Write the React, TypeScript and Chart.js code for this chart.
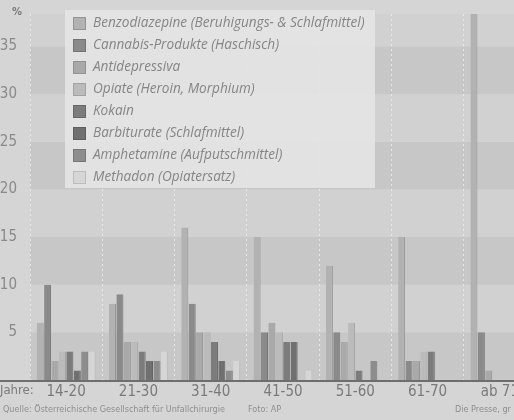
import React, { useEffect, useRef } from "react";
import { Chart, registerables } from "chart.js";

Chart.register(...registerables);

const categories = ["14-20", "21-30", "31-40", "41-50", "51-60", "61-70", "ab 71"];

const seriesNames = [
  "Benzodiazepine (Beruhigungs- & Schlafmittel)",
  "Cannabis-Produkte (Haschisch)",
  "Antidepressiva",
  "Opiate (Heroin, Morphium)",
  "Kokain",
  "Barbiturate (Schlafmittel)",
  "Amphetamine (Aufputschmittel)",
  "Methadon (Opiatersatz)",
];

const benzodiazepine = [6, 8, 16, 15, 12, 15, 42];
const cannabis = [10, 9, 8, 5, 5, 2, 5];
const antidepressiva = [2, 4, 5, 6, 4, 2, 1];
const opiate = [3, 4, 5, 5, 6, 3, 0];
const kokain = [3, 3, 4, 4, 1, 3, 0];
const barbiturate = [1, 2, 2, 4, 0, 0, 0];
const amphetamine = [3, 2, 1, 0, 2, 0, 0];
const methadon = [3, 3, 2, 1, 0, 0, 0];

const seriesValues = [benzodiazepine, cannabis, antidepressiva, opiate, kokain, barbiturate, amphetamine, methadon];

const seriesColors = ["#b2b2b2", "#8a8a8a", "#a9a9a9", "#bbbbbb", "#7c7c7c", "#707070", "#8d8d8d", "#d6d6d6"];
const seriesBorders = ["#949494", "#747474", "#929292", "#a2a2a2", "#676767", "#5e5e5e", "#777777", "#bdbdbd"];

const yTickValues = [5, 10, 15, 20, 25, 30, 35];
const yMax = 38.4;

const sourceText = "Quelle: Österreichische Gesellschaft für Unfallchirurgie";
const fotoText = "Foto: AP";
const presseText = "Die Presse, gr";

const decorPlugin = {
  id: "decor",
  beforeDraw(chart: any) {
    const { ctx, chartArea, scales, width, height } = chart;
    const y = scales.y;
    ctx.save();
    ctx.fillStyle = "#d5d5d5";
    ctx.fillRect(0, 0, width, height);
    for (let i = 0; i < 8; i++) {
      const lo = i * 5;
      const hi = Math.min((i + 1) * 5, yMax);
      const top = y.getPixelForValue(hi);
      const bot = y.getPixelForValue(lo);
      ctx.fillStyle = i % 2 === 0 ? "#c7c7c7" : "#d1d1d1";
      ctx.fillRect(chartArea.left, top, width - chartArea.left, bot - top);
    }
    ctx.restore();
  },
  afterDatasetsDraw(chart: any) {
    const { ctx, chartArea, width } = chart;
    ctx.save();
    // axis line
    ctx.strokeStyle = "#6e6e6e";
    ctx.lineWidth = 2;
    ctx.beginPath();
    ctx.moveTo(0, chartArea.bottom + 1);
    ctx.lineTo(width, chartArea.bottom + 1);
    ctx.stroke();

    // legend box
    const bx = 65, by = 10, bw = 310, bh = 178;
    ctx.fillStyle = "rgba(228,228,228,0.9)";
    ctx.fillRect(bx, by, bw, bh);
    ctx.font = "italic 13.6px 'Open Sans', 'DejaVu Sans', sans-serif";
    ctx.textBaseline = "middle";
    ctx.textAlign = "left";
    chart.data.datasets.forEach((ds: any, i: number) => {
      const cy = 23 + i * 22;
      ctx.fillStyle = ds.backgroundColor;
      ctx.fillRect(73, cy - 6, 13, 13);
      ctx.strokeStyle = ds.borderColor;
      ctx.lineWidth = 1;
      ctx.strokeRect(73.5, cy - 5.5, 12, 12);
      ctx.fillStyle = "#858585";
      ctx.fillText(ds.label, 93, cy);
    });

    // percent sign
    ctx.fillStyle = "#7a7a7a";
    ctx.font = "bold 10px 'DejaVu Sans', sans-serif";
    ctx.textAlign = "center";
    ctx.fillText("%", 17, 12);

    // Jahre label
    ctx.font = "13px 'DejaVu Sans Condensed', 'DejaVu Sans', sans-serif";
    ctx.textAlign = "left";
    ctx.fillStyle = "#7a7a7a";
    ctx.fillText("Jahre:", 0, chartArea.bottom + 11);

    // source line
    ctx.font = "9px 'DejaVu Sans Condensed', 'DejaVu Sans', sans-serif";
    ctx.fillStyle = "#8e8e8e";
    ctx.fillText(sourceText, 3, chartArea.bottom + 30);
    ctx.fillText(fotoText, 248, chartArea.bottom + 30);
    ctx.fillText(presseText, 455, chartArea.bottom + 30);
    ctx.restore();
  },
};

export default function App() {
  const ref = useRef<HTMLCanvasElement | null>(null);

  useEffect(() => {
    if (!ref.current) return;
    const chart = new Chart(ref.current, {
      type: "bar",
      data: {
        labels: categories,
        datasets: seriesNames.map((name, i) => ({
          label: name,
          data: seriesValues[i],
          backgroundColor: seriesColors[i],
          borderColor: seriesBorders[i],
          borderWidth: { top: 0, left: 0, right: 1, bottom: 0 },
          barPercentage: 0.95,
          categoryPercentage: 0.82,
        })),
      },
      options: {
        animation: false,
        responsive: false,
        maintainAspectRatio: false,
        layout: { padding: { left: 0, right: 25, top: 0, bottom: 0 } },
        plugins: {
          legend: { display: false },
          tooltip: { enabled: false },
        },
        scales: {
          x: {
            type: "category",
            grid: {
              display: true,
              offset: true,
              color: "rgba(240,240,240,0.75)",
              lineWidth: 1,
              drawTicks: false,
            },
            border: { display: false, dash: [2, 3] },
            ticks: {
              color: "#7a7a7a",
              font: { size: 15, family: "'DejaVu Sans Condensed', 'DejaVu Sans', sans-serif" },
              padding: 3,
              maxRotation: 0,
              autoSkip: false,
            },
            afterFit(scale: any) {
              scale.height = 40;
            },
          },
          y: {
            min: 0,
            max: yMax,
            grid: { display: false },
            border: { display: false },
            afterBuildTicks(scale: any) {
              scale.ticks = yTickValues.map((v) => ({ value: v }));
            },
            ticks: {
              color: "#8a8a8a",
              font: { size: 15, family: "'DejaVu Sans Condensed', 'DejaVu Sans', sans-serif" },
              padding: 5,
            },
            afterFit(scale: any) {
              scale.width = 30;
            },
          },
        },
      },
      plugins: [decorPlugin],
    });
    return () => chart.destroy();
  }, []);

  return (
    <div style={{ position: "fixed", left: 0, top: 0, width: 514, height: 420, overflow: "hidden" }}>
      <canvas ref={ref} width={561} height={420} style={{ display: "block", width: 561, height: 420 }} />
    </div>
  );
}
